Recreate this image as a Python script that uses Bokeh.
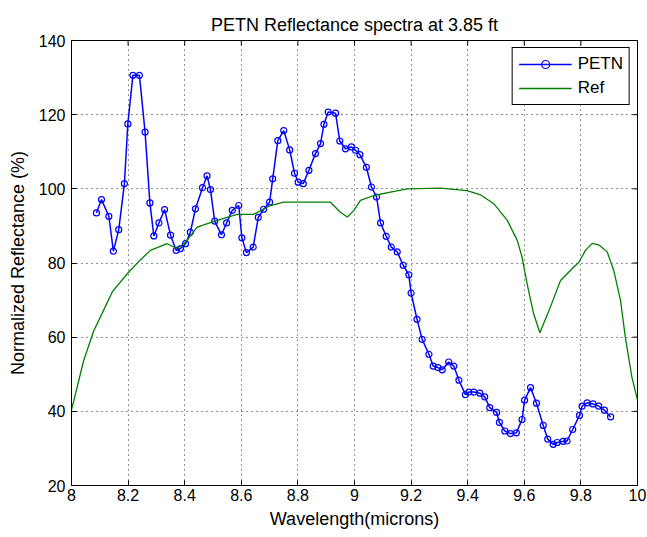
import math
from bokeh.plotting import figure
from bokeh.models import Range1d, FixedTicker, CustomJSTickFormatter, Legend
from bokeh.embed import file_html
from bokeh.resources import INLINE

# ---------------- data ----------------
petn_x = [8.088, 8.106, 8.132, 8.148, 8.167, 8.187, 8.199, 8.217, 8.240, 8.260,
          8.277, 8.291, 8.309, 8.329, 8.350, 8.370, 8.385, 8.403, 8.420, 8.438,
          8.463, 8.479, 8.491, 8.506, 8.530, 8.548, 8.568, 8.591, 8.602, 8.618,
          8.642, 8.660, 8.679, 8.700, 8.711, 8.729, 8.750, 8.771, 8.788, 8.801,
          8.819, 8.839, 8.862, 8.880, 8.892, 8.907, 8.933, 8.948, 8.968, 8.989,
          9.004, 9.019, 9.042, 9.060, 9.078, 9.092, 9.112, 9.130, 9.151, 9.172,
          9.192, 9.200, 9.221, 9.239, 9.263, 9.278, 9.295, 9.310, 9.333, 9.351,
          9.369, 9.392, 9.404, 9.422, 9.443, 9.460, 9.478, 9.502, 9.512, 9.531,
          9.551, 9.572, 9.592, 9.601, 9.622, 9.643, 9.667, 9.683, 9.702, 9.716,
          9.737, 9.751, 9.771, 9.795, 9.804, 9.822, 9.843, 9.863, 9.883, 9.905]
petn_y = [93.5, 97.1, 92.6, 83.2, 89.0, 101.4, 117.5, 130.6, 130.6, 115.3,
          96.2, 87.3, 90.8, 94.4, 87.5, 83.4, 83.9, 85.2, 88.3, 94.6,
          100.3, 103.5, 99.8, 91.3, 87.6, 90.8, 94.2, 95.5, 86.8, 82.8,
          84.3, 92.3, 94.5, 96.4, 102.7, 113.0, 115.7, 110.5, 104.2, 101.8,
          101.4, 105.0, 109.5, 112.2, 117.4, 120.7, 120.4, 112.9, 110.8, 111.3,
          110.4, 109.2, 105.8, 100.5, 97.8, 90.8, 87.2, 84.3, 83.0, 79.4,
          76.8, 71.9, 64.8, 59.4, 55.4, 52.2, 51.8, 51.2, 53.3, 52.2,
          48.4, 44.5, 45.2, 45.2, 44.9, 43.9, 41.0, 39.7, 37.0, 34.7,
          34.0, 34.2, 37.8, 43.0, 46.4, 42.2, 36.2, 32.5, 31.1, 31.6,
          31.9, 32.0, 35.1, 38.9, 41.4, 42.3, 42.0, 41.4, 40.3, 38.5]

ref_x = [8.000, 8.005, 8.043, 8.079, 8.102, 8.144, 8.197, 8.244, 8.279, 8.338,
         8.373, 8.403, 8.444, 8.515, 8.585, 8.643, 8.703, 8.750, 8.915, 8.950,
         8.975, 8.998, 9.021, 9.068, 9.127, 9.186, 9.304, 9.398, 9.445, 9.492,
         9.540, 9.575, 9.592, 9.610, 9.633, 9.655, 9.692, 9.728, 9.775, 9.793,
         9.816, 9.840, 9.865, 9.893, 9.916, 9.940, 9.957, 9.980, 10.000]
ref_y = [40.5, 41.9, 53.7, 61.8, 65.4, 72.2, 77.1, 80.9, 83.4, 85.2,
         83.9, 85.6, 89.7, 91.5, 93.1, 93.1, 95.5, 96.4, 96.4, 93.7,
         92.4, 94.2, 96.9, 98.2, 99.1, 100.0, 100.2, 99.5, 98.4, 96.0,
         91.5, 86.1, 81.6, 74.4, 66.3, 61.2, 68.1, 75.3, 78.9, 80.2,
         83.4, 85.3, 84.8, 83.0, 78.0, 69.9, 60.0, 49.3, 43.0]

x_ticks = [8.0, 8.2, 8.4, 8.6, 8.8, 9.0, 9.2, 9.4, 9.6, 9.8, 10.0]
y_ticks = [20, 40, 60, 80, 100, 120, 140]

title_text = "PETN Reflectance spectra at 3.85 ft"
x_label = "Wavelength(microns)"
y_label = "Normalized Reflectance (%)"

FONT = "Liberation Sans"
TICK_FS = "16px"
LABEL_FS = "18px"

p = figure(width=647, height=537, output_backend="svg", toolbar_location=None,
           x_range=Range1d(x_ticks[0], x_ticks[-1]), y_range=Range1d(y_ticks[0], y_ticks[-1]),
           min_border_left=71, min_border_right=10, min_border_top=40,
           min_border_bottom=52, title=title_text)
p.title.text_font = FONT
p.title.text_font_size = LABEL_FS
p.title.text_font_style = "normal"
p.title.align = "center"
p.title.vertical_align = "middle"
p.title.text_color = "black"

p.outline_line_color = "black"
p.outline_line_width = 1
p.outline_line_alpha = 1

fmt = CustomJSTickFormatter(code="var s = tick.toFixed(1); return s.endsWith('.0') ? s.slice(0, -2) : s;")

for ax in (p.xaxis[0], p.yaxis[0]):
    ax.major_label_text_font = FONT
    ax.major_label_text_font_size = TICK_FS
    ax.major_label_text_color = "black"
    ax.axis_label_text_font = FONT
    ax.axis_label_text_font_size = LABEL_FS
    ax.axis_label_text_font_style = "normal"
    ax.axis_label_text_color = "black"
    ax.major_tick_in = 5
    ax.major_tick_out = 0
    ax.minor_tick_line_color = None
    ax.axis_line_color = "black"
    ax.major_tick_line_color = "black"

p.xaxis[0].ticker = FixedTicker(ticks=x_ticks)
p.xaxis[0].formatter = fmt
p.xaxis[0].axis_label = x_label
p.xaxis[0].major_label_standoff = 3
p.xaxis[0].axis_label_standoff = 5
p.yaxis[0].ticker = FixedTicker(ticks=y_ticks)
p.yaxis[0].axis_label = y_label
p.yaxis[0].major_label_standoff = 6
p.yaxis[0].axis_label_standoff = 8

p.xgrid.ticker = FixedTicker(ticks=x_ticks)
p.ygrid.ticker = FixedTicker(ticks=y_ticks)
for g in (p.xgrid[0], p.ygrid[0]):
    g.grid_line_color = "black"
    g.grid_line_dash = "1 4"
    g.grid_line_width = 1
    g.grid_line_alpha = 0.85

# inward ticks on the top and right edges of the box (clipped to the frame)
p.scatter(x_ticks, [y_ticks[-1]] * len(x_ticks), marker="dash", angle=math.pi / 2,
          size=10, line_color="black", line_width=1)
p.scatter([x_ticks[-1]] * len(y_ticks), y_ticks, marker="dash",
          size=10, line_color="black", line_width=1)

r_line = p.line(petn_x, petn_y, line_color="#0000ff", line_width=1.5)
r_pts = p.scatter(petn_x, petn_y, marker="circle", size=6, line_color="#0000ff",
                  fill_color=None, line_width=1.2)
r_ref = p.line(ref_x, ref_y, line_color="#008000", line_width=1.3)

legend = Legend(items=[("PETN", [r_line, r_pts]), ("Ref", [r_ref])],
                location="top_right")
legend.label_text_font = FONT
legend.label_text_font_size = "17px"
legend.label_text_color = "black"
legend.border_line_color = "black"
legend.border_line_width = 1
legend.border_line_alpha = 1
legend.glyph_width = 53
legend.glyph_height = 20
legend.margin = 7
legend.padding = 6
legend.spacing = 4
legend.label_standoff = 6
p.add_layout(legend, "center")

open("out.html", "w").write(file_html(p, INLINE))
